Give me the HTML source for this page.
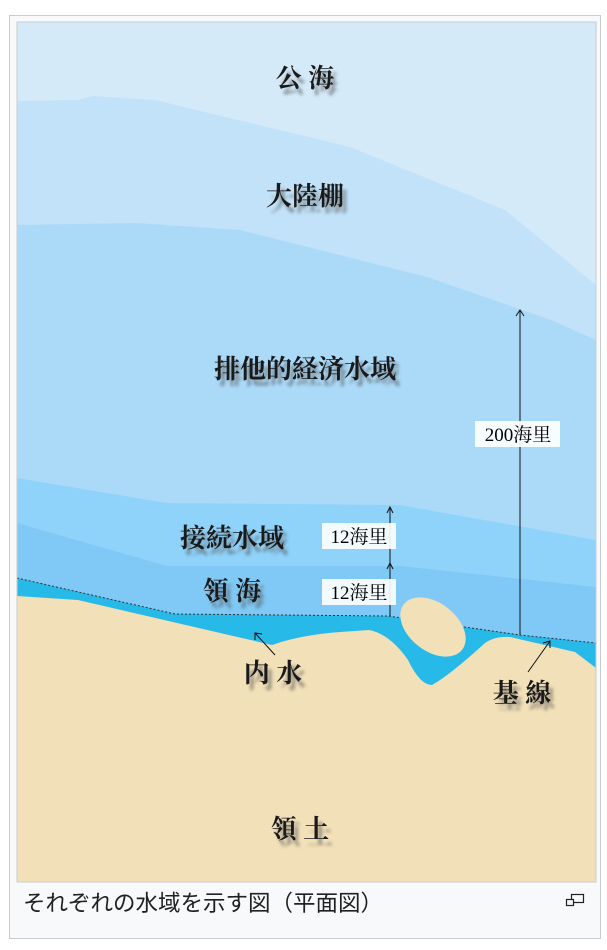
<!DOCTYPE html>
<html><head><meta charset="utf-8"><style>
body{margin:0;background:#fff;width:607px;height:950px;overflow:hidden;font-family:"Liberation Sans","Noto Sans CJK JP",sans-serif}
.box{position:absolute;left:9px;top:15px;width:592px;height:924px;background:#f8f9fa;border:1px solid #c8ccd1;box-sizing:border-box}
svg{position:absolute;left:0;top:0}
.cap{position:absolute;left:23px;top:886px;font-size:22.5px;color:#202122;font-family:"Noto Sans CJK JP",sans-serif}
</style></head><body>
<div class="box"></div>
<svg width="607" height="950" viewBox="0 0 607 950">
<defs><filter id="b" x="-20%" y="-20%" width="140%" height="140%"><feGaussianBlur stdDeviation="1.6"/></filter>
<clipPath id="c"><rect x="17" y="22" width="579" height="860"/></clipPath></defs>
<g clip-path="url(#c)">
<rect x="17" y="22" width="579" height="860" fill="#d4eaf9"/>
<path d="M17,101 L78,100 L93,96 L155,100 L350,147 L505,210 L596,285 L596,882 L17,882Z" fill="#c1e2f8"/>
<path d="M17,225 L136,223 L240,230 L427,277 L551,320 L596,340 L596,882 L17,882Z" fill="#abdaf9"/>
<path d="M17,478 L167,503 L400,505 L596,540 L596,882 L17,882Z" fill="#8fd3fb"/>
<path d="M17,523 L167,566 L400,566 L596,587 L596,882 L17,882Z" fill="#80c8f5"/>
<path d="M17,578 L175,614 L388,616 L520,635 L596,643 L596,882 L17,882Z" fill="#27b9e7"/>
<path d="M17,578 L175,614 L388,616 L520,635 L596,643" fill="none" stroke="#333" stroke-width="1" stroke-dasharray="2,2"/>
<path d="M17,596 L78,600 L272,645 Q300,635 340,632 L369,630 Q390,634 408,660 Q420,685 432,685 Q450,675 485,643 Q495,636 510,637 L575,652 L596,668 L596,882 L17,882Z" fill="#f2e0b8"/>
<ellipse cx="433" cy="627" rx="37" ry="24" transform="rotate(38 433 627)" fill="#f2e0b8"/>
</g>
<rect x="17" y="22" width="579" height="860" fill="none" stroke="#c8ccd1"/>
<g stroke="#111" stroke-width="1" fill="none">
<line x1="520" y1="311" x2="520" y2="635"/><path d="M516,316 L520,310 L524,316"/>
<line x1="390" y1="508" x2="390" y2="616"/><path d="M387,513 L390,507 L393,513"/><path d="M387,569 L390,563 L393,569"/>
<line x1="275" y1="655" x2="255" y2="633"/><path d="M255,640 L255,633 L262,634"/>
<line x1="528" y1="672" x2="550" y2="641"/><path d="M543,643 L550,641 L550,648"/>
</g>
<g font-family="Liberation Serif,'Noto Serif CJK SC',serif" font-size="19" text-anchor="middle">
<rect x="475" y="421" width="85" height="26" fill="#fff" opacity=".9"/><text x="518" y="441">200海里</text>
<rect x="322" y="523" width="74" height="26" fill="#fff" opacity=".9"/><text x="359" y="543">12海里</text>
<rect x="322" y="579" width="74" height="26" fill="#fff" opacity=".9"/><text x="359" y="599">12海里</text>
</g>
<g font-family="'Noto Serif CJK SC','Noto Serif CJK SC',serif" font-weight="bold" font-size="26" text-anchor="middle">
<g fill="#555" opacity=".6" filter="url(#b)" transform="translate(4,6)">
<text x="305" y="87">公 海</text><text x="305" y="205">大陸棚</text><text x="305" y="378">排他的経済水域</text>
<text x="232" y="547">接続水域</text><text x="232" y="600">領 海</text><text x="273" y="682">内 水</text>
<text x="522" y="702">基 線</text><text x="300" y="838">領 土</text></g>
<g fill="#1a1a1a">
<text x="305" y="87">公 海</text><text x="305" y="205">大陸棚</text><text x="305" y="378">排他的経済水域</text>
<text x="232" y="547">接続水域</text><text x="232" y="600">領 海</text><text x="273" y="682">内 水</text>
<text x="522" y="702">基 線</text><text x="300" y="838">領 土</text></g>
</g>
<g stroke="#202122" fill="#f8f9fa" stroke-width="1.2"><rect x="571.5" y="894.5" width="12" height="8"/><rect x="566.5" y="899.5" width="7" height="6"/></g>
</svg>
<div class="cap">それぞれの水域を示す図（平面図）</div>
</body></html>
